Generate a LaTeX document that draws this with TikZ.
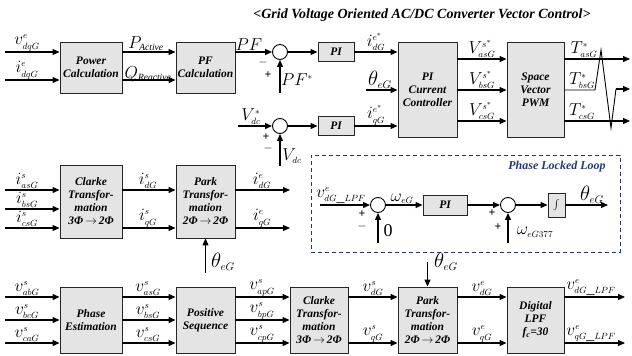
\documentclass[tikz,border=0pt]{standalone}
\usepackage{fontspec}
\setmainfont{Liberation Serif}
\usetikzlibrary{arrows.meta,calc,positioning}
\DeclareMathSizes{16}{16}{9.5}{7}
\DeclareMathSizes{20}{20}{11}{8}
\definecolor{pllblue}{RGB}{35,55,120}
\definecolor{boxgray}{RGB}{228,228,228}
\tikzset{
  blk/.style={rectangle,draw=black!85,fill=boxgray,line width=0.9pt,align=center,
    inner sep=1pt,font=\bfseries\itshape\fontsize{11.5}{13}\selectfont},
  sumnode/.style={circle,draw,line width=0.9pt,minimum size=15pt,inner sep=0pt},
  arr/.style={-{Triangle[length=7pt,width=6pt]},line width=1.1pt},
  wire/.style={line width=0.9pt},
  sig/.style={inner sep=0pt,font=\fontsize{16}{16}\selectfont},
  lab/.style={sig,anchor=south},
  thsig/.style={inner sep=0pt,font=\fontsize{20}{20}\selectfont},
  sgn/.style={inner sep=0pt,font=\bfseries\fontsize{12}{12}\selectfont},
  % dashed frame of the phase locked loop
  pllframe/.style={draw=pllblue,dash pattern=on 4pt off 3pt,line width=1pt},
}

\begin{document}
\begin{tikzpicture}[x=1pt,y=-1pt]
  \useasboundingbox (0,0) rectangle (632,356);
  \node[font=\bfseries\itshape\fontsize{14}{14}\selectfont] (title) at (422,15)
    {<Grid Voltage Oriented AC/DC Converter Vector Control>};

  % top row: power factor and dc-link control
  \node[blk,minimum width=62pt,minimum height=51pt] (pw) at (91,67.5) {Power\\Calculation};
  \node[blk,minimum width=59pt,minimum height=51pt] (pf) at (205.5,67.5) {PF\\Calculation};
  \coordinate (vin) at (5,52);
  \coordinate (iin) at (5,80);
  \draw[arr] (vin) -- (vin -| pw.west);
  \draw[arr] (iin) -- (iin -| pw.west);
  \node[lab] (lvdq) at (27,51) {$v^{e}_{dqG}$};
  \node[lab] (lidq) at (27,79) {$i^{e}_{dqG}$};
  \draw[arr] (pw.east |- vin) -- (pf.west |- vin);
  \draw[arr] (pw.east |- iin) -- (pf.west |- iin);
  \node[lab] (lp) at (146,51) {$P_{\mathit{Active}}$};
  \node[sig] (lq) at (148,74) {$Q_{\mathit{Reactive}}$};

  \node[sumnode] (s1) at (280,52) {};
  \draw[arr] (pf.east |- vin) -- (s1.west);
  \node[lab] (lpf) at (249,51) {$PF$};
  \node[sgn] (m1) at (263,62) {$-$};
  \node[sgn] (p1) at (268,75) {+};
  \coordinate (pfr) at (280,93);
  \draw[arr] (pfr) -- (s1.south);
  \node[sig] (lpfr) at (297,80) {$PF^{*}$};
  \node[blk,minimum width=36pt,minimum height=19pt] (pi1) at (336,52) {PI};
  \draw[arr] (s1.east) -- (pi1.west);

  \node[blk,minimum width=59pt,minimum height=95pt] (cc) at (427.5,89.5) {PI\\Current\\Controller};
  \draw[arr] (pi1.east) -- (pi1.east -| cc.west);
  \node[lab] (lidr) at (376,51) {$i^{e^{*}}_{dG}$};
  \coordinate (thc) at (366,90);
  \draw[arr] (thc) -- (thc -| cc.west);
  \node[thsig,anchor=south] (lthc) at (380,89) {$\theta_{eG}$};

  \coordinate (vdcr) at (238,126);
  \node[sumnode] (s2) at (280,126) {};
  \draw[arr] (vdcr) -- (s2.west);
  \node[lab] (lvdcr) at (251,125) {$V^{*}_{dc}$};
  \node[sgn] (p2) at (266,137) {+};
  \node[sgn] (m2) at (268,148) {$-$};
  \coordinate (vdcm) at (280,166);
  \draw[arr] (vdcm) -- (s2.south);
  \node[sig] (lvdc) at (292,156) {$V_{dc}$};
  \node[blk,minimum width=36pt,minimum height=19pt] (pi2) at (336,126) {PI};
  \draw[arr] (s2.east) -- (pi2.west);
  \draw[arr] (pi2.east) -- (pi2.east -| cc.west);
  \node[lab] (liqr) at (376,125) {$i^{e^{*}}_{qG}$};

  \node[blk,minimum width=57pt,minimum height=95pt] (sv) at (535.5,89.5) {Space\\Vector\\PWM};
  \foreach \y/\ph in {59/as,90/bs,121/cs} {
    \draw[arr] (cc.east |- 0,\y) -- (sv.west |- 0,\y);
    \node[lab] (lv\ph) at (482,\y-1) {$V^{s^{*}}_{\ph G}$};
  }

  % gate signals with the crossing
  \coordinate (tao) at (630,59);
  \coordinate (z1) at (595,90);
  \coordinate (z2) at (601,50);
  \coordinate (z3) at (611,128);
  \coordinate (z4) at (616,89);
  \coordinate (tbo) at (630,89);
  \coordinate (tco) at (630,121);
  \draw[arr] (sv.east |- tao) -- (tao);
  \draw[wire] (sv.east |- z1) -- (z1) -- (z2) -- (z3) -- (z4);
  \draw[arr] (z4) -- (tbo);
  \draw[arr] (sv.east |- tco) -- (tco);
  \node[lab] (ltas) at (584,58) {$T^{*}_{asG}$};
  \node[lab] (ltbs) at (582,89) {$T^{*}_{bsG}$};
  \node[lab] (ltcs) at (582,120) {$T^{*}_{csG}$};

  % middle row: current transformations
  \node[blk,minimum width=62pt,minimum height=73pt] (ck1) at (91,201.5)
    {Clarke\\Transfor-\\mation\\3Φ\,$\rightarrow$\,2Φ};
  \node[blk,minimum width=59pt,minimum height=73pt] (pk1) at (205.5,201.5)
    {Park\\Transfor-\\mation\\2Φ\,$\rightarrow$\,2Φ};
  \foreach \y/\ph in {190/as,209/bs,228/cs} {
    \coordinate (ci\ph) at (5,\y);
    \draw[arr] (ci\ph) -- (ci\ph -| ck1.west);
    \node[lab] (lci\ph) at (27,\y-1) {$i^{s}_{\ph G}$};
  }
  \coordinate (ido) at (290,190);
  \coordinate (iqo) at (290,228);
  \draw[arr] (ck1.east |- ido) -- (pk1.west |- ido);
  \draw[arr] (ck1.east |- iqo) -- (pk1.west |- iqo);
  \draw[arr] (pk1.east |- ido) -- (ido);
  \draw[arr] (pk1.east |- iqo) -- (iqo);
  \node[lab] (lisd) at (148,189) {$i^{s}_{dG}$};
  \node[lab] (lisq) at (148,227) {$i^{s}_{qG}$};
  \node[lab] (lied) at (262,189) {$i^{e}_{dG}$};
  \node[lab] (lieq) at (262,227) {$i^{e}_{qG}$};
  \coordinate (thp1) at (205.5,273);
  \draw[arr] (thp1) -- (pk1.south);
  \node[thsig] (lthp1) at (223,262) {$\theta_{eG}$};

  % phase locked loop
  \node[pllframe,minimum width=309pt,minimum height=97pt] (pll) at (465.5,203.5) {};
  \node[font=\bfseries\itshape\fontsize{12}{12}\selectfont,text=pllblue] (lpll) at (557,167)
    {Phase Locked Loop};
  \coordinate (pin) at (320,205);
  \node[sumnode] (s3) at (378,205) {};
  \draw[arr] (pin) -- (s3.west);
  \node[lab] (lpin) at (341,204) {$v^{e}_{dG\_LPF}$};
  \node[sgn] (p3) at (362,214) {+};
  \node[sgn] (m3) at (362,226) {$-$};
  \coordinate (zin) at (378,243);
  \draw[arr] (zin) -- (s3.south);
  \node[inner sep=0pt,font=\fontsize{18}{18}\selectfont] (lz) at (388,231) {0};
  \node[blk,minimum width=44pt,minimum height=20pt] (pi3) at (445,205) {PI};
  \draw[arr] (s3.east) -- (pi3.west);
  \node[lab] (lw) at (402,204) {$\omega_{eG}$};
  \node[sumnode] (s4) at (508,205) {};
  \draw[arr] (pi3.east) -- (s4.west);
  \node[sgn] (p4) at (492,213) {+};
  \node[sgn] (p5) at (498,227) {+};
  \coordinate (win) at (508,243);
  \draw[arr] (win) -- (s4.south);
  \node[sig] (lw0) at (535,232) {$\omega_{eG377}$};
  \node[blk,minimum width=17pt,minimum height=24pt,font=\fontsize{12}{12}\selectfont] (intg) at (556.5,205) {$\int$};
  \draw[arr] (s4.east) -- (intg.west);
  \coordinate (thout) at (608,205);
  \draw[arr] (intg.east) -- (thout);
  \node[thsig,anchor=south] (lth) at (592,204) {$\theta_{eG}$};

  % bottom row: voltage path
  \node[blk,minimum width=62pt,minimum height=66pt] (pe) at (91,320) {Phase\\Estimation};
  \node[blk,minimum width=59pt,minimum height=66pt] (ps) at (205.5,320) {Positive\\Sequence};
  \node[blk,minimum width=58pt,minimum height=66pt] (ck2) at (319,320)
    {Clarke\\Transfor-\\mation\\3Φ\,$\rightarrow$\,2Φ};
  \node[blk,minimum width=59pt,minimum height=66pt] (pk2) at (427.5,320)
    {Park\\Transfor-\\mation\\2Φ\,$\rightarrow$\,2Φ};
  \node[blk,minimum width=57pt,minimum height=66pt] (lpf) at (535.5,320)
    {Digital\\LPF\\\textit{f}\textsubscript{c}=30};
  \foreach \y/\ph in {297/ab,320/bc,343/ca} {
    \coordinate (vi\ph) at (5,\y);
    \draw[arr] (vi\ph) -- (vi\ph -| pe.west);
    \node[lab] (lvi\ph) at (27,\y-1) {$v^{s}_{\ph G}$};
  }
  \foreach \y/\ph in {297/a,320/b,343/c} {
    \draw[arr] (pe.east |- 0,\y) -- (ps.west |- 0,\y);
    \draw[arr] (ps.east |- 0,\y) -- (ck2.west |- 0,\y);
    \node[lab] (lvs\ph) at (148,\y-1) {$v^{s}_{\ph sG}$};
    \node[lab] (lvp\ph) at (262,\y-1) {$v^{s}_{\ph pG}$};
  }
  \coordinate (vdo) at (625,297);
  \coordinate (vqo) at (625,343);
  \draw[arr] (ck2.east |- vdo) -- (pk2.west |- vdo);
  \draw[arr] (ck2.east |- vqo) -- (pk2.west |- vqo);
  \draw[arr] (pk2.east |- vdo) -- (lpf.west |- vdo);
  \draw[arr] (pk2.east |- vqo) -- (lpf.west |- vqo);
  \draw[arr] (lpf.east |- vdo) -- (vdo);
  \draw[arr] (lpf.east |- vqo) -- (vqo);
  \node[lab] (lvsd) at (373,296) {$v^{s}_{dG}$};
  \node[lab] (lvsq) at (373,342) {$v^{s}_{qG}$};
  \node[lab] (lved) at (482,296) {$v^{e}_{dG}$};
  \node[lab] (lveq) at (482,342) {$v^{e}_{qG}$};
  \node[lab] (lvfd) at (591,296) {$v^{e}_{dG\_LPF}$};
  \node[lab] (lvfq) at (591,342) {$v^{e}_{qG\_LPF}$};
  \coordinate (thp2) at (427.5,262);
  \draw[arr] (thp2) -- (pk2.north);
  \node[thsig] (lthp2) at (446,262) {$\theta_{eG}$};
\end{tikzpicture}
\end{document}
